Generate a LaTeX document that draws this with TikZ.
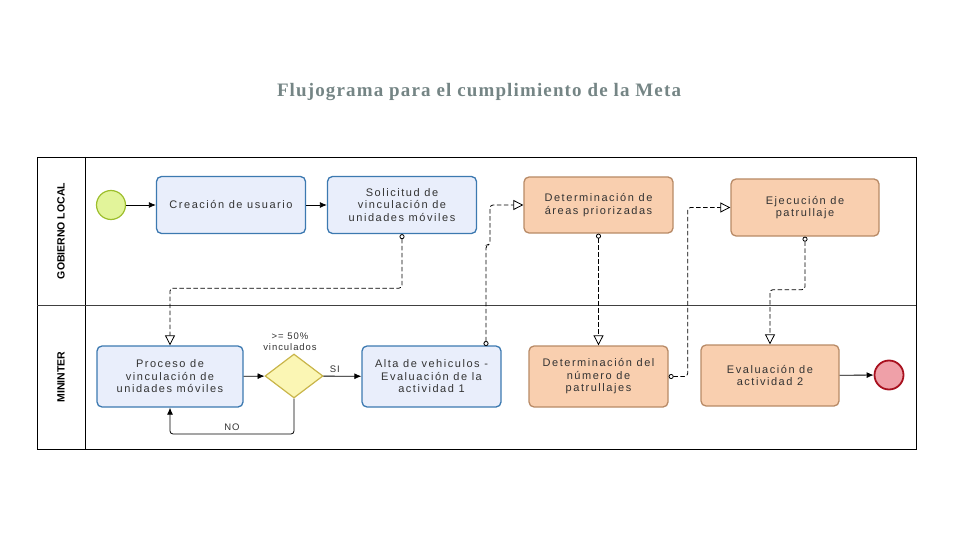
\documentclass[tikz,border=0pt]{standalone}
\usepackage{fontspec}
\setmainfont{Liberation Sans}
\newfontfamily\titlefont{Liberation Serif}
\usetikzlibrary{arrows.meta,shapes.geometric}
\definecolor{bluefill}{HTML}{E9EEFB}
\definecolor{bluedraw}{HTML}{3C79B0}
\definecolor{orangefill}{HTML}{F9CFAF}
\definecolor{orangedraw}{HTML}{B88A66}
\definecolor{gwfill}{HTML}{FBF6B4}
\definecolor{gwdraw}{HTML}{C9B54A}
\definecolor{startfill}{HTML}{E2F49A}
\definecolor{startdraw}{HTML}{9DBE2C}
\definecolor{endfill}{HTML}{EFA0A8}
\definecolor{enddraw}{HTML}{A8101E}
\definecolor{titlegray}{HTML}{758585}
\definecolor{textgray}{HTML}{333333}
\tikzset{
  tasktext/.style={align=center, text=textgray,
    font=\fontsize{11}{12.5}\selectfont\addfontfeature{LetterSpace=14}},
  bluetask/.style={tasktext, draw=bluedraw, fill=bluefill, line width=1.3pt,
    rounded corners=5pt, inner sep=0pt},
  orangetask/.style={tasktext, draw=orangedraw, fill=orangefill, line width=1.3pt,
    rounded corners=5pt, inner sep=0pt},
  seq/.style={draw, line width=0.8pt, -{Latex[length=7pt,width=6pt]}},
  msg/.style={draw, line width=0.8pt, dashed, dash pattern=on 4.5pt off 2.5pt,
    rounded corners=3pt,
    {Circle[open,length=5pt,width=5pt]}-{Triangle[open,length=10pt,width=10pt]}},
  small/.style={font=\fontsize{9.5}{11}\selectfont\addfontfeature{LetterSpace=10}, text=textgray, align=center},
}
\begin{document}
\begin{tikzpicture}[x=1pt,y=-1pt]
\useasboundingbox (0,0) rectangle (958,540);

\node[font=\titlefont\bfseries\fontsize{19}{21}\selectfont\addfontfeature{LetterSpace=6}, text=titlegray] (title) at (479,92) {Flujograma para el cumplimiento de la Meta};

% pool and lanes
\draw[line width=0.9pt] (37,157) rectangle (916,449);
\draw[line width=0.9pt] (85,157) -- (85,449);
\draw[line width=0.7pt, black!75] (37,305) -- (916,305);
\node[rotate=90, font=\bfseries\fontsize{10.5}{12}\selectfont] (lane1) at (61,231) {GOBIERNO LOCAL};
\node[rotate=90, font=\bfseries\fontsize{10.5}{12}\selectfont] (lane2) at (61,377) {MININTER};

% gobierno local
\node[circle, draw=startdraw, fill=startfill, line width=1.2pt, minimum size=29pt, inner sep=0pt] (start) at (111,205) {};
\node[bluetask, minimum width=149pt, minimum height=57pt] (crea) at (231,205) {Creación de usuario};
\node[bluetask, minimum width=149pt, minimum height=57pt] (soli) at (402,205) {Solicitud de\\vinculación de\\unidades móviles};
\node[orangetask, minimum width=149pt, minimum height=56pt] (areas) at (598.5,205) {Determinación de\\áreas priorizadas};
\node[orangetask, minimum width=148pt, minimum height=57pt] (ejec) at (805,207.5) {Ejecución de\\patrullaje};

% mininter
\node[bluetask, minimum width=146pt, minimum height=61pt] (proc) at (170,376.5) {Proceso de\\vinculación de\\unidades móviles};
\node[diamond, draw=gwdraw, fill=gwfill, line width=1.2pt, minimum width=58pt, minimum height=44pt, inner sep=0pt] (gw) at (294,376) {};
\node[small] (gwlabel) at (290,342) {>= 50\%\\vinculados};
\node[bluetask, minimum width=139pt, minimum height=61pt] (alta) at (431.5,376.5) {Alta de vehiculos -\\Evaluación de la\\actividad 1};
\node[orangetask, minimum width=139pt, minimum height=61pt] (numero) at (598.5,376.5) {Determinación del\\número de\\patrullajes};
\node[orangetask, minimum width=138pt, minimum height=61pt] (eval) at (770,375.5) {Evaluación de\\actividad 2};
\node[circle, draw=enddraw, fill=endfill, line width=1.8pt, minimum size=29pt, inner sep=0pt] (end) at (889,375) {};
\coordinate (altatop) at (486,346);

% sequence flows
\path[seq] (start) -- (crea);
\path[seq] (crea) -- (soli);
\path[seq] (proc) -- (gw);
\path[seq] (gw) -- node[small, above, pos=0.3] {SI} (alta);
\path[seq, rounded corners=3pt] (gw.south) -- (294,434) -| node[small, above, pos=0.25] {NO} (proc.south);
\path[seq] (eval) -- (end);

% message flows
\path[msg] (soli.south) -- ++(0,54) -| (proc.north);
\path[msg] (altatop) -- ++(0,-101) -- ++(4,0) |- (areas.west);
\path[msg] (areas.south) -- (numero.north);
\path[msg] (numero.east) -- ++(19,0) |- (ejec.west);
\path[msg] (ejec.south) -- ++(0,53) -| (eval.north);
\end{tikzpicture}
\end{document}
